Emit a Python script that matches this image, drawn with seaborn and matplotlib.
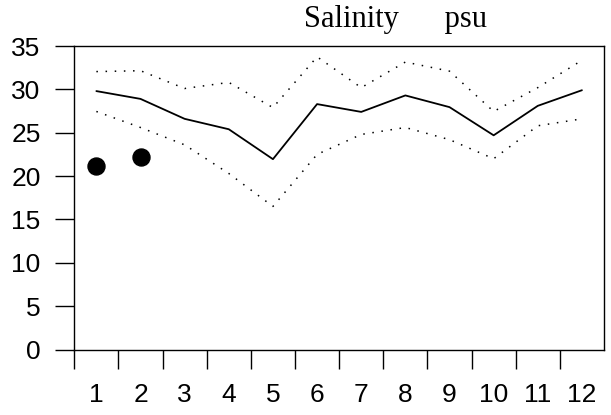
import numpy as np
import pandas as pd
import matplotlib
matplotlib.use("Agg")
import matplotlib.pyplot as plt
import seaborn as sns

# monthly salinity values
months = [1, 2, 3, 4, 5, 6, 7, 8, 9, 10, 11, 12]
mean_sal = [29.8, 28.9, 26.6, 25.4, 21.95, 28.3, 27.4, 29.3, 27.95, 24.7, 28.1, 29.9]
upper_sal = [32.05, 32.15, 30.1, 30.8, 27.9, 33.75, 30.2, 33.15, 32.1, 27.45, 30.2, 33.35]
lower_sal = [27.45, 25.6, 23.6, 20.3, 16.5, 22.5, 24.8, 25.6, 24.2, 22.0, 25.8, 26.6]
obs_months = [1, 2]
obs_sal = [21.2, 22.25]
y_ticks = [0, 5, 10, 15, 20, 25, 30, 35]

df = pd.DataFrame({"month": months, "mean": mean_sal,
                   "upper": upper_sal, "lower": lower_sal})
df["x"] = df["month"] - 0.5
obs = pd.DataFrame({"x": np.array(obs_months) - 0.5, "sal": obs_sal})

sns.set_style("white")
plt.rcParams["font.family"] = ["Liberation Sans", "DejaVu Sans"]
plt.rcParams["text.color"] = "black"
plt.rcParams["xtick.color"] = "black"
plt.rcParams["ytick.color"] = "black"

fig = plt.figure(figsize=(6.11, 4.15), dpi=100)
ax = fig.add_axes([74.3 / 611, 65.5 / 415, 529.7 / 611, 303.5 / 415])

sns.lineplot(data=df, x="x", y="mean", ax=ax, color="black", linewidth=1.3)
sns.lineplot(data=df, x="x", y="upper", ax=ax, color="black", linewidth=1.1,
             linestyle=(0, (1, 5)))
sns.lineplot(data=df, x="x", y="lower", ax=ax, color="black", linewidth=1.1,
             linestyle=(0, (1, 5)))
sns.scatterplot(data=obs, x="x", y="sal", ax=ax, color="black", s=150,
                edgecolor="black", zorder=5)

ax.set_xlim(0, 12)
ax.set_ylim(0, 35)
ax.set_xlabel("")
ax.set_ylabel("")

# major ticks at month boundaries, labels centred between them
ax.set_xticks(range(0, 12))
ax.set_xticklabels([])
ax.set_xticks(df["x"], minor=True)
ax.set_xticklabels([str(m) for m in months], minor=True)
ax.tick_params(axis="x", which="major", direction="out", length=13.7,
               width=1, color="black", bottom=True)
ax.tick_params(axis="x", which="minor", length=0, pad=24, labelsize=19,
               labelcolor="black")

ax.set_yticks(y_ticks)
ax.tick_params(axis="y", direction="out", length=13.7, width=1, color="black",
               left=True, pad=10.5, labelsize=19, labelcolor="black")

for s in ax.spines.values():
    s.set_color("black")
    s.set_linewidth(1)

fig.text(396 / 611, 1 - 27 / 415, "Salinity      psu", ha="center", va="baseline",
         fontsize=22, color="black", family=["Liberation Serif", "DejaVu Serif"])

fig.savefig("out.png", dpi=100)
